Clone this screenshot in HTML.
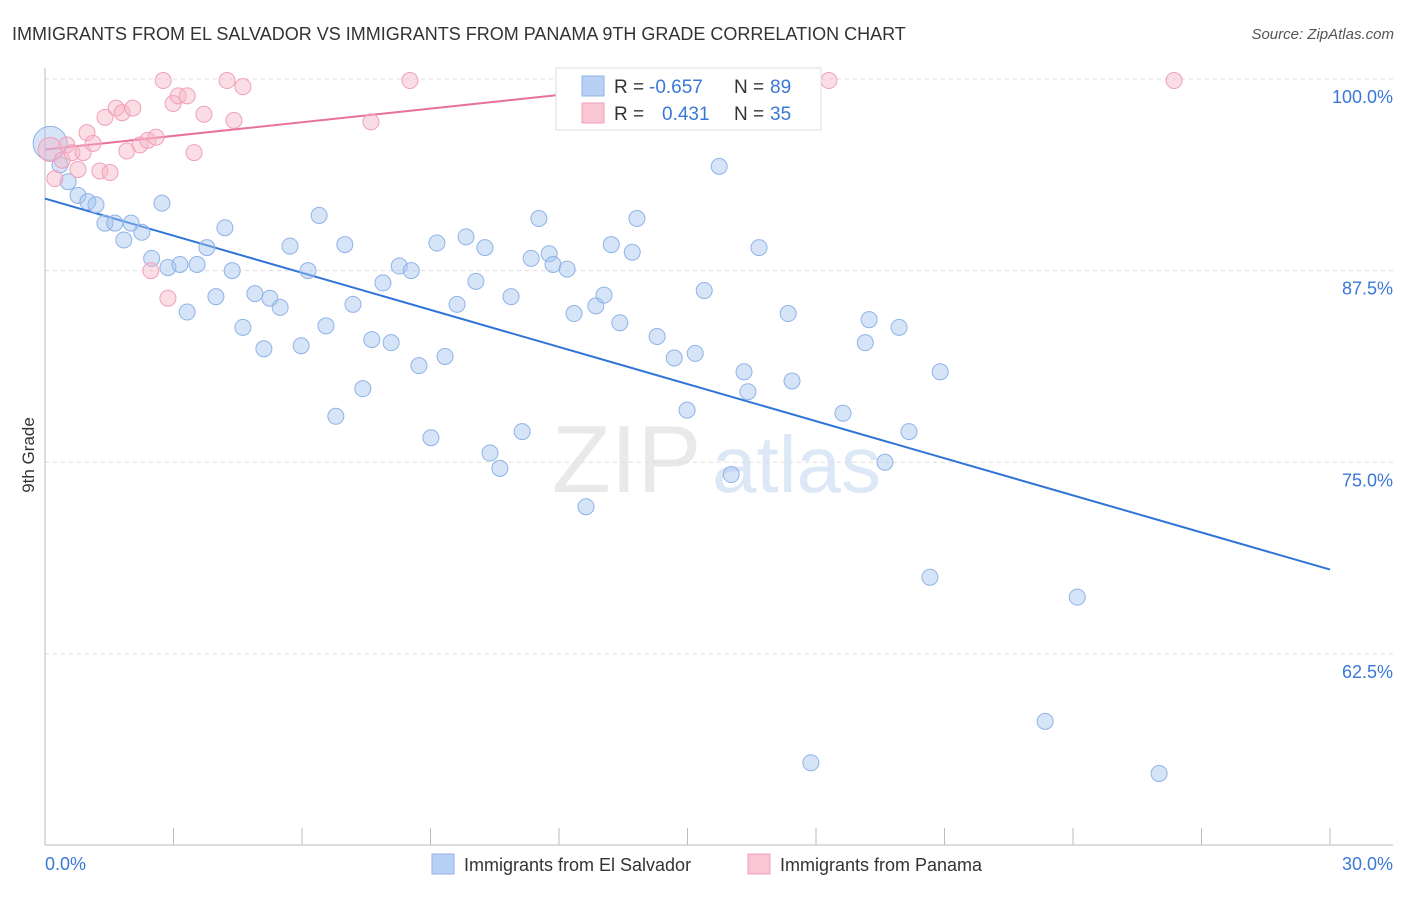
<!DOCTYPE html>
<html><head><meta charset="utf-8"><style>
body{margin:0;background:#fff;font-family:"Liberation Sans",sans-serif}
svg text{font-family:"Liberation Sans",sans-serif}
</style></head><body>
<svg id="chart" width="1406" height="892" xmlns="http://www.w3.org/2000/svg">
<text x="12" y="40" font-size="18" fill="#333">IMMIGRANTS FROM EL SALVADOR VS IMMIGRANTS FROM PANAMA 9TH GRADE CORRELATION CHART</text>
<text x="1394" y="39" font-size="15" fill="#555" text-anchor="end" font-style="italic">Source: ZipAtlas.com</text>
<g opacity="0.18">
<text x="552" y="492" font-size="96" font-family="Liberation Serif" fill="#888">ZIP</text>
<text x="712" y="492" font-size="80" fill="#4a86d8">atlas</text>
</g>
<g id="grid"></g><g id="axes"></g>
<text transform="translate(34,455) rotate(-90)" font-size="17" fill="#333" text-anchor="middle">9th Grade</text>
<g id="trends"></g><g id="pts"></g>
<g>
<rect x="556" y="68" width="265" height="62" fill="#fff" stroke="#ddd"/>
<rect x="582" y="76" width="22" height="20" fill="#b8d0f4" stroke="#8fb3e8"/>
<rect x="582" y="103" width="22" height="20" fill="#f9c6d4" stroke="#f0a0b8"/>
<text x="614" y="93" font-size="19" fill="#333">R = </text><text x="649" y="93" font-size="19" fill="#3a78d8">-0.657</text>
<text x="734" y="93" font-size="19" fill="#333">N = </text><text x="770" y="93" font-size="19" fill="#3a78d8">89</text>
<text x="614" y="120" font-size="19" fill="#333">R = </text><text x="662" y="120" font-size="19" fill="#3a78d8">0.431</text>
<text x="734" y="120" font-size="19" fill="#333">N = </text><text x="770" y="120" font-size="19" fill="#3a78d8">35</text>
</g>
<g><rect x="432" y="854" width="22" height="20" fill="#b8d0f4" stroke="#8fb3e8"/><text x="464" y="871" font-size="18" fill="#333">Immigrants from El Salvador</text></g>
<g><rect x="748" y="854" width="22" height="20" fill="#f9c6d4" stroke="#f0a0b8"/><text x="780" y="871" font-size="18" fill="#333">Immigrants from Panama</text></g>
</svg>
<script>
const yTicks=[100,87.5,75,62.5];
const yTickLabels=["100.0%","87.5%","75.0%","62.5%"];
const xTicks=[0,3,6,9,12,15,18,21,24,27,30];
const xEndLabels=["0.0%","30.0%"];
const blueX=[0.12,0.35,0.54,0.77,1.00,1.19,1.40,1.63,1.84,2.01,2.26,2.49,2.73,2.87,3.15,3.32,3.55,3.78,3.99,4.20,4.37,4.62,4.90,5.11,5.25,5.49,5.72,5.98,6.14,6.40,6.56,6.79,7.00,7.19,7.42,7.63,7.89,8.08,8.27,8.55,8.73,9.01,9.15,9.34,9.62,9.83,10.06,10.27,10.39,10.62,10.88,11.14,11.35,11.53,11.77,11.86,12.19,12.35,12.63,12.86,13.05,13.22,13.42,13.71,13.82,14.29,14.69,14.99,15.18,15.39,15.74,16.02,16.32,16.41,16.67,17.35,17.44,17.88,18.63,19.15,19.24,19.61,19.94,20.17,20.66,20.90,23.35,24.10,26.01];
const blueY=[95.8,94.4,93.3,92.4,92.0,91.8,90.6,90.6,89.5,90.6,90.0,88.3,91.9,87.7,87.9,84.8,87.9,89.0,85.8,90.3,87.5,83.8,86.0,82.4,85.7,85.1,89.1,82.6,87.5,91.1,83.9,78.0,89.2,85.3,79.8,83.0,86.7,82.8,87.8,87.5,81.3,76.6,89.3,81.9,85.3,89.7,86.8,89.0,75.6,74.6,85.8,77.0,88.3,90.9,88.6,87.9,87.6,84.7,72.1,85.2,85.9,89.2,84.1,88.7,90.9,83.2,81.8,78.4,82.1,86.2,94.3,74.2,80.9,79.6,89.0,84.7,80.3,55.4,78.2,82.8,84.3,75.0,83.8,77.0,67.5,80.9,58.1,66.2,54.7];
const pinkX=[0.12,0.23,0.40,0.51,0.63,0.77,0.89,0.98,1.12,1.28,1.40,1.52,1.66,1.80,1.91,2.05,2.22,2.40,2.47,2.59,2.76,2.87,2.99,3.11,3.32,3.48,3.71,4.25,4.41,4.62,7.61,8.52,14.66,18.30,26.36];
const pinkY=[95.4,93.5,94.7,95.7,95.2,94.1,95.2,96.5,95.8,94.0,97.5,93.9,98.1,97.8,95.3,98.1,95.7,96.0,87.5,96.2,99.9,85.7,98.4,98.9,98.9,95.2,97.7,99.9,97.3,99.5,97.2,99.9,99.9,99.9,99.9];
const blueTrendX=[0,30], blueTrendY=[92.2,68.0];
const pinkTrendX=[0,15.5], pinkTrendY=[95.4,100];
const X=v=>45+v/30*1285, Y=v=>79+(100-v)*15.33;
const NS="http://www.w3.org/2000/svg";
function mk(tag,attrs,parent){const e=document.createElementNS(NS,tag);for(const k in attrs)e.setAttribute(k,attrs[k]);document.getElementById(parent).appendChild(e);return e;}
yTicks.forEach((t,i)=>{
 const l=mk('line',{x1:45,x2:1393,y1:Y(t),y2:Y(t),stroke:'#ddd','stroke-dasharray':'4,4'},'grid');
 
 
 const tx=mk('text',{x:1393,y:Y(t)+24,'font-size':18,fill:'#3a78d8','text-anchor':'end'},'grid');tx.textContent=yTickLabels[i];
 
 
});
const ax=mk('line',{x1:45,x2:45,y1:68,y2:845,stroke:'#bbb'},'axes');


const bx=mk('line',{x1:45,x2:1393,y1:845,y2:845,stroke:'#bbb'},'axes');


xTicks.forEach(t=>{const l=mk('line',{x1:X(t),x2:X(t),y1:828,y2:845,stroke:'#bbb'},'axes');
 
 });
const xl0=mk('text',{x:45,y:870,'font-size':18,fill:'#3a78d8'},'axes');xl0.textContent=xEndLabels[0];


const xl1=mk('text',{x:1393,y:870,'font-size':18,fill:'#3a78d8','text-anchor':'end'},'axes');xl1.textContent=xEndLabels[1];


blueX.forEach((v,i)=>{const c=mk('circle',{cx:X(v),cy:Y(blueY[i]),r:i===0?17:8,fill:'rgba(164,196,240,0.45)',stroke:'#8fb3e8','stroke-width':1},'pts');
 
 });
pinkX.forEach((v,i)=>{const c=mk('circle',{cx:X(v),cy:Y(pinkY[i]),r:i===0?12:8,fill:'rgba(247,180,200,0.45)',stroke:'#f0a0b8','stroke-width':1},'pts');
 
 });
const tb=mk('line',{x1:X(blueTrendX[0]),y1:Y(blueTrendY[0]),x2:X(blueTrendX[1]),y2:Y(blueTrendY[1]),stroke:'#2f74d8','stroke-width':2},'trends');


const tp=mk('line',{x1:X(pinkTrendX[0]),y1:Y(pinkTrendY[0]),x2:X(pinkTrendX[1]),y2:Y(pinkTrendY[1]),stroke:'#e8709a','stroke-width':2},'trends');


</script>
</body></html>
